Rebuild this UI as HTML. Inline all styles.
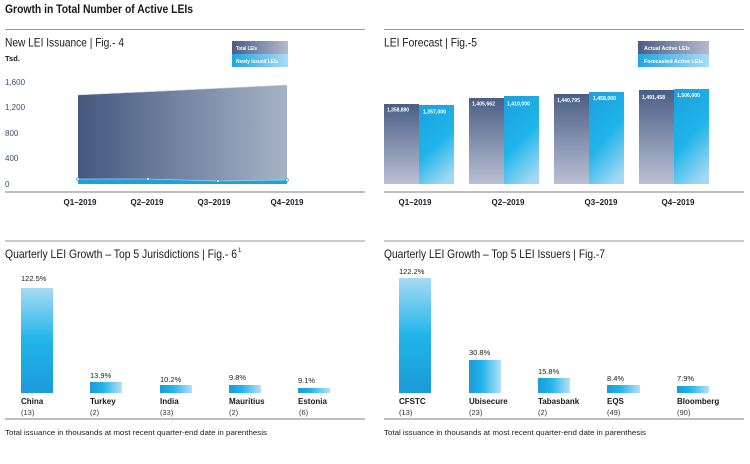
<!DOCTYPE html>
<html><head><meta charset="utf-8"><style>
html,body{margin:0;padding:0;background:#fff;}
svg{display:block;}
text{font-family:"Liberation Sans",Arial,sans-serif;}
</style></head><body>
<svg width="750" height="464" viewBox="0 0 750 464" xmlns="http://www.w3.org/2000/svg">
<defs>
<linearGradient id="area" x1="0" y1="0" x2="1" y2="0">
<stop offset="0" stop-color="#44587f"/><stop offset="1" stop-color="#a6b3c6"/></linearGradient>
<linearGradient id="legDark" x1="0" y1="0" x2="1" y2="0">
<stop offset="0" stop-color="#4a5d84"/><stop offset="1" stop-color="#b3bacd"/></linearGradient>
<linearGradient id="legLight" x1="0" y1="0" x2="1" y2="0">
<stop offset="0" stop-color="#1ea6e3"/><stop offset="1" stop-color="#a8dcf5"/></linearGradient>
<linearGradient id="act" x1="0" y1="0" x2="0" y2="1">
<stop offset="0" stop-color="#4a5e85"/><stop offset="1" stop-color="#bac0d4"/></linearGradient>
<linearGradient id="fc" x1="0.3" y1="0" x2="0.7" y2="1">
<stop offset="0" stop-color="#1ea2df"/><stop offset="0.5" stop-color="#1fb5ea"/><stop offset="1" stop-color="#a3d8f3"/></linearGradient>
<linearGradient id="barT" x1="0" y1="1" x2="0" y2="0">
<stop offset="0" stop-color="#1b9ad8"/><stop offset="0.5" stop-color="#20b5e9"/><stop offset="1" stop-color="#a6dbf4"/></linearGradient>
<linearGradient id="barS" x1="0" y1="0" x2="1" y2="0">
<stop offset="0" stop-color="#1b9ad8"/><stop offset="0.4" stop-color="#22b4e9"/><stop offset="1" stop-color="#b3e1f6"/></linearGradient>
</defs>

<!-- Main title -->
<text x="5" y="13" font-size="11.5" font-weight="bold" fill="#1a1a1a" textLength="188" lengthAdjust="spacingAndGlyphs">Growth in Total Number of Active LEIs</text>
<line x1="5" y1="29.5" x2="365" y2="29.5" stroke="#9a9a9a" stroke-width="1"/>
<line x1="384" y1="29.5" x2="744" y2="29.5" stroke="#9a9a9a" stroke-width="1"/>

<!-- Fig 4 -->
<text x="5" y="46.5" font-size="12" fill="#1a1a1a" textLength="119" lengthAdjust="spacingAndGlyphs">New LEI Issuance  |  Fig.- 4</text>
<text x="5" y="61" font-size="7.5" font-weight="bold" fill="#1a1a1a">Tsd.</text>
<rect x="232" y="41" width="56" height="13" fill="url(#legDark)"/>
<rect x="232" y="54" width="56" height="13" fill="url(#legLight)"/>
<text x="236" y="50" font-size="5" font-weight="bold" fill="#fff" textLength="21" lengthAdjust="spacingAndGlyphs">Total LEIs</text>
<text x="236" y="63" font-size="5" font-weight="bold" fill="#fff" textLength="42" lengthAdjust="spacingAndGlyphs">Newly Issued LEIs</text>

<g font-size="8" fill="#3b4d75">
<text x="5" y="85">1,600</text>
<text x="5" y="110">1,200</text>
<text x="5" y="136">800</text>
<text x="5" y="161">400</text>
<text x="5" y="187">0</text>
</g>
<polygon points="78,95 148,92 218,88.5 287,85 287,183.5 78,183.5" fill="url(#area)"/>
<line x1="78" y1="95" x2="287" y2="85" stroke="#c9d0dc" stroke-width="0.6"/>
<polygon points="78,179 148,179 218,181 287,180 287,184 78,184" fill="#1e9fe0"/>
<polyline points="78,179 148,179 218,181 287,180" fill="none" stroke="#8fd3f4" stroke-width="0.8"/>
<g fill="#fff" stroke="#1e9fe0" stroke-width="0.7">
<circle cx="78" cy="179" r="1.4"/><circle cx="148" cy="179" r="1.4"/><circle cx="218" cy="181" r="1.4"/><circle cx="287" cy="180" r="1.4"/>
</g>
<line x1="5" y1="192" x2="365" y2="192" stroke="#a8a8a8" stroke-width="1.5"/>
<g font-size="8" font-weight="bold" fill="#1a1a2a" text-anchor="middle">
<text x="80" y="205">Q1–2019</text>
<text x="147" y="205">Q2–2019</text>
<text x="214" y="205">Q3–2019</text>
<text x="287" y="205">Q4–2019</text>
</g>

<!-- Fig 5 -->
<text x="384" y="46.5" font-size="12" fill="#1a1a1a" textLength="93" lengthAdjust="spacingAndGlyphs">LEI Forecast  |  Fig.-5</text>
<rect x="638" y="41" width="71" height="13" fill="url(#legDark)"/>
<rect x="638" y="54" width="71" height="13" fill="url(#legLight)"/>
<text x="644" y="50" font-size="5" font-weight="bold" fill="#fff" textLength="46" lengthAdjust="spacingAndGlyphs">Actual Active LEIs</text>
<text x="644" y="63" font-size="5" font-weight="bold" fill="#fff" textLength="59" lengthAdjust="spacingAndGlyphs">Forecasted Active LEIs</text>

<rect x="384" y="104" width="35" height="80" fill="url(#act)"/>
<rect x="419" y="105" width="35" height="79" fill="url(#fc)"/>
<rect x="469" y="98" width="35" height="86" fill="url(#act)"/>
<rect x="504" y="96" width="35" height="88" fill="url(#fc)"/>
<rect x="554" y="94" width="35" height="90" fill="url(#act)"/>
<rect x="589" y="92" width="35" height="92" fill="url(#fc)"/>
<rect x="639" y="90" width="35" height="94" fill="url(#act)"/>
<rect x="674" y="89" width="35" height="95" fill="url(#fc)"/>
<g font-size="5.2" font-weight="bold" fill="#fff">
<text x="387" y="111.5" textLength="22" lengthAdjust="spacingAndGlyphs">1,358,880</text>
<text x="423" y="113.5" textLength="23" lengthAdjust="spacingAndGlyphs">1,357,000</text>
<text x="472" y="105.5" textLength="23" lengthAdjust="spacingAndGlyphs">1,405,662</text>
<text x="507" y="105.5" textLength="23" lengthAdjust="spacingAndGlyphs">1,410,000</text>
<text x="557" y="102" textLength="23" lengthAdjust="spacingAndGlyphs">1,440,795</text>
<text x="593" y="100" textLength="23" lengthAdjust="spacingAndGlyphs">1,458,000</text>
<text x="642" y="99" textLength="23" lengthAdjust="spacingAndGlyphs">1,491,458</text>
<text x="677" y="97" textLength="23" lengthAdjust="spacingAndGlyphs">1,506,000</text>
</g>
<line x1="384" y1="192" x2="744" y2="192" stroke="#a8a8a8" stroke-width="1.5"/>
<g font-size="8" font-weight="bold" fill="#1a1a2a" text-anchor="middle">
<text x="415" y="205">Q1–2019</text>
<text x="508" y="205">Q2–2019</text>
<text x="601" y="205">Q3–2019</text>
<text x="678" y="205">Q4–2019</text>
</g>

<!-- Fig 6 -->
<line x1="5" y1="241" x2="365" y2="241" stroke="#9a9a9a" stroke-width="1"/>
<text x="5" y="258" font-size="12" fill="#1a1a1a" textLength="232" lengthAdjust="spacingAndGlyphs">Quarterly LEI Growth – Top 5 Jurisdictions  |  Fig.- 6</text>
<text x="238" y="252" font-size="6" fill="#1a1a1a">1</text>

<rect x="21" y="288" width="32" height="105" fill="url(#barT)"/>
<rect x="90" y="382" width="32" height="11" fill="url(#barS)"/>
<rect x="160" y="385" width="32" height="8" fill="url(#barS)"/>
<rect x="229" y="385" width="32" height="8" fill="url(#barS)"/>
<rect x="298" y="388" width="32" height="5" fill="url(#barS)"/>
<g font-size="7.5" fill="#222">
<text x="21" y="281">122.5%</text>
<text x="90" y="378">13.9%</text>
<text x="160" y="382">10.2%</text>
<text x="229" y="380">9.8%</text>
<text x="298" y="383">9.1%</text>
</g>
<g font-size="8" font-weight="bold" fill="#1a1a1a">
<text x="21" y="404">China</text>
<text x="90" y="404">Turkey</text>
<text x="160" y="404">India</text>
<text x="229" y="404">Mauritius</text>
<text x="298" y="404">Estonia</text>
</g>
<g font-size="7.5" fill="#333">
<text x="21" y="415">(13)</text>
<text x="90" y="415">(2)</text>
<text x="160" y="415">(33)</text>
<text x="229" y="415">(2)</text>
<text x="299" y="415">(6)</text>
</g>
<line x1="5" y1="419" x2="365" y2="419" stroke="#a8a8a8" stroke-width="1.5"/>
<text x="5" y="435" font-size="7.5" fill="#1a1a1a" textLength="262" lengthAdjust="spacingAndGlyphs">Total issuance in thousands at most recent quarter-end date in parenthesis</text>

<!-- Fig 7 -->
<line x1="384" y1="241" x2="744" y2="241" stroke="#9a9a9a" stroke-width="1"/>
<text x="384" y="258" font-size="12" fill="#1a1a1a" textLength="221" lengthAdjust="spacingAndGlyphs">Quarterly LEI Growth – Top 5 LEI Issuers  |  Fig.-7</text>

<rect x="399" y="278" width="32" height="115" fill="url(#barT)"/>
<rect x="469" y="360" width="32" height="33" fill="url(#barS)"/>
<rect x="538" y="378" width="32" height="15" fill="url(#barS)"/>
<rect x="607" y="385" width="33" height="8" fill="url(#barS)"/>
<rect x="677" y="386" width="32" height="7" fill="url(#barS)"/>
<g font-size="7.5" fill="#222">
<text x="399" y="274">122.2%</text>
<text x="469" y="355">30.8%</text>
<text x="538" y="374">15.8%</text>
<text x="607" y="381">8.4%</text>
<text x="677" y="381">7.9%</text>
</g>
<g font-size="8" font-weight="bold" fill="#1a1a1a">
<text x="399" y="404">CFSTC</text>
<text x="469" y="404">Ubisecure</text>
<text x="538" y="404">Tabasbank</text>
<text x="607" y="404">EQS</text>
<text x="677" y="404">Bloomberg</text>
</g>
<g font-size="7.5" fill="#333">
<text x="399" y="415">(13)</text>
<text x="469" y="415">(23)</text>
<text x="538" y="415">(2)</text>
<text x="607" y="415">(49)</text>
<text x="677" y="415">(90)</text>
</g>
<line x1="384" y1="419" x2="744" y2="419" stroke="#a8a8a8" stroke-width="1.5"/>
<text x="384" y="435" font-size="7.5" fill="#1a1a1a" textLength="262" lengthAdjust="spacingAndGlyphs">Total issuance in thousands at most recent quarter-end date in parenthesis</text>
</svg>
</body></html>
